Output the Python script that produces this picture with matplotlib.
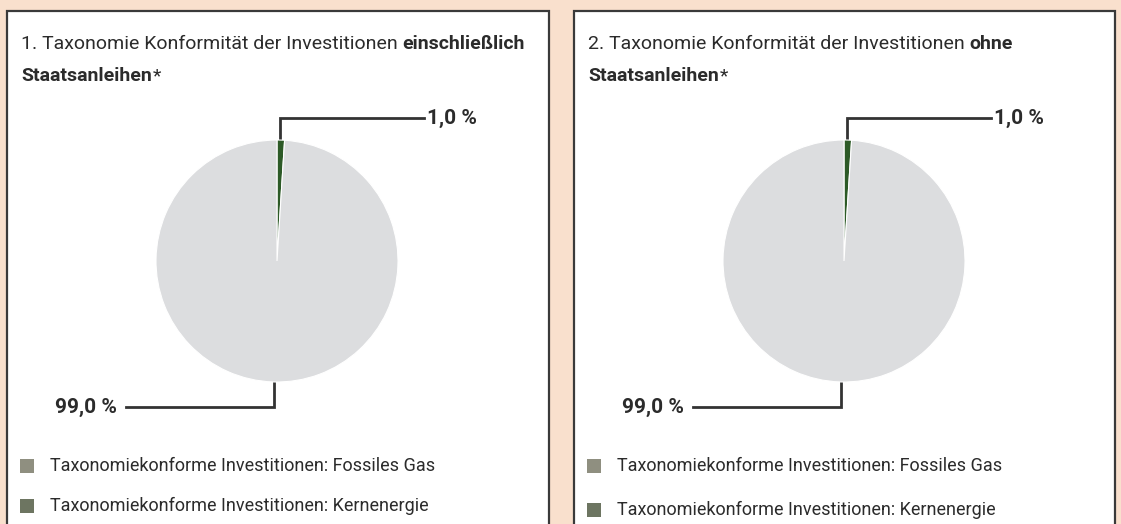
import numpy as np
import matplotlib.pyplot as plt
from matplotlib.patches import Rectangle

# data
titles_plain = ["1. Taxonomie Konformität der Investitionen ",
                "2. Taxonomie Konformität der Investitionen "]
titles_bold = ["einschließlich", "ohne"]
title_line2 = "Staatsanleihen"
shares = [[1.0, 99.0], [1.0, 99.0]]
share_labels = [["1,0 %", "99,0 %"], ["1,0 %", "99,0 %"]]
slice_colors = ["#2d5a27", "#dcdddf"]
legend_labels = ["Taxonomiekonforme Investitionen: Fossiles Gas",
                 "Taxonomiekonforme Investitionen: Kernenergie"]
legend_colors = ["#8f8f80", "#6d7561"]

W, H = 1121, 524
BG = "#f9e0cd"
INK = "#2b2b2b"
FONT = ["Roboto", "DejaVu Sans"]
FS = 13
FS_TITLE = 14

fig = plt.figure(figsize=(W / 100, H / 100), dpi=100)
fig.patch.set_facecolor(BG)
base = fig.add_axes([0, 0, 1, 1])
base.set_xlim(0, W)
base.set_ylim(H, 0)
base.axis("off")

panel_left = [7, 574]
panel_right = [549, 1115]
r_px = 121
fig.canvas.draw()
renderer = fig.canvas.get_renderer()

for i in range(2):
    x0 = panel_left[i]
    base.add_patch(Rectangle((x0, 11), panel_right[i] - x0, H, facecolor="white",
                             edgecolor="#3a3a3a", lw=1.6, zorder=1))

    # title, mixed weight
    t = base.text(x0 + 14, 44, titles_plain[i], fontsize=FS_TITLE, family=FONT,
                  color=INK, va="center", ha="left", zorder=3)
    fig.canvas.draw()
    bb = t.get_window_extent(renderer)
    base.text(bb.x1, H - 44, titles_bold[i], fontsize=FS_TITLE, family=FONT,
              fontweight="bold", color=INK, va="center", ha="left",
              transform=None, zorder=3)
    t2 = base.text(x0 + 14, 76, title_line2, fontsize=FS_TITLE, family=FONT,
                   fontweight="bold", color=INK, va="center", ha="left", zorder=3)
    fig.canvas.draw()
    bb2 = t2.get_window_extent(renderer)
    base.text(bb2.x1 + 1, H - 76, "*", fontsize=FS_TITLE, family=FONT, color=INK,
              va="center", ha="left", transform=None, zorder=3)

    # pie
    cx = x0 + 270
    cy = 261
    pax = fig.add_axes([(cx - r_px) / W, (H - cy - r_px) / H, 2 * r_px / W, 2 * r_px / H])
    wedges, _ = pax.pie(shares[i], colors=slice_colors, startangle=90, counterclock=False,
                        radius=1.0, wedgeprops=dict(edgecolor="white", linewidth=0.8))
    pax.set_xlim(-1, 1)
    pax.set_ylim(-1, 1)
    pax.set_aspect("equal")
    pax.axis("off")

    # leader lines from wedge mid angles
    for k, w in enumerate(wedges):
        ang = np.deg2rad((w.theta1 + w.theta2) / 2)
        rr = 0.87 if k == 0 else 0.9
        px = cx + rr * r_px * np.cos(ang)
        py = cy - rr * r_px * np.sin(ang)
        if k == 0:
            ly = cy - 143
            lx = cx + 147
            base.plot([px, px, lx], [py, ly, ly], color="#333333", lw=2, zorder=4,
                      solid_joinstyle="miter")
            base.text(lx + 3, ly, share_labels[i][k], fontsize=15, family=FONT,
                      fontweight="bold", color=INK, va="center", ha="left", zorder=4)
        else:
            ly = cy + 146
            lx = cx - 151
            base.plot([px, px, lx], [py, ly, ly], color="#333333", lw=2, zorder=4,
                      solid_joinstyle="miter")
            base.text(lx - 9, ly, share_labels[i][k], fontsize=15, family=FONT,
                      fontweight="bold", color=INK, va="center", ha="right", zorder=4)

    # legend
    for j, lab in enumerate(legend_labels):
        ly = 466 + j * 40 + (i * 4 if j == 1 else 0)
        base.add_patch(Rectangle((x0 + 13, ly - 7), 14, 14, facecolor=legend_colors[j],
                                 edgecolor="none", zorder=3))
        base.text(x0 + 43, ly, lab, fontsize=FS, family=FONT, color=INK,
                  va="center", ha="left", zorder=3)

fig.savefig("out.png", dpi=100, facecolor=BG)
